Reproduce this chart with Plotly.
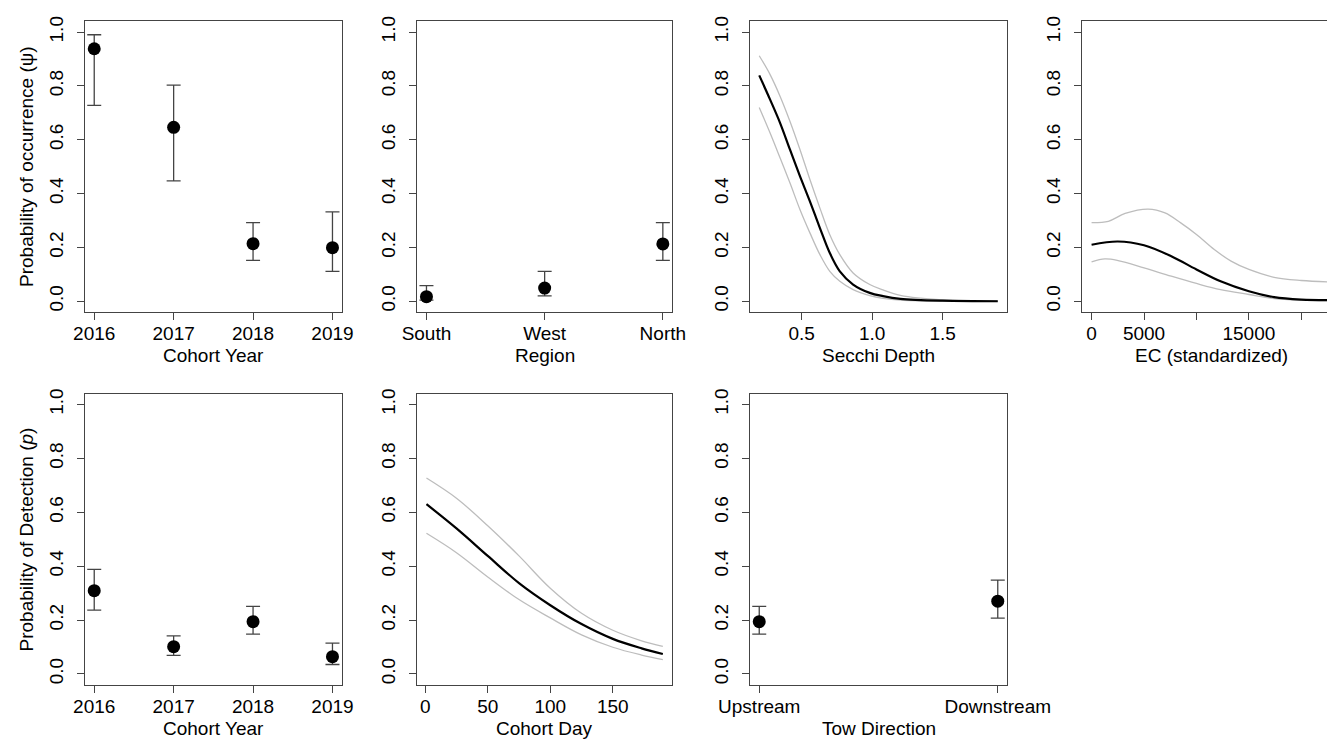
import plotly.graph_objects as go

# ---------------- data ----------------
# Occupancy (psi) by cohort year
occ_years = [2016, 2017, 2018, 2019]
occ_year_psi = [0.938, 0.646, 0.214, 0.199]
occ_year_lo = [0.728, 0.447, 0.152, 0.111]
occ_year_hi = [0.990, 0.803, 0.292, 0.332]

# Occupancy by region
region_labels = ["South", "West", "North"]
region_pos = [1, 2, 3]
region_psi = [0.017, 0.049, 0.213]
region_lo = [0.004, 0.020, 0.152]
region_hi = [0.058, 0.111, 0.292]

# Occupancy vs Secchi depth
secchi_x = [0.2, 0.277, 0.348, 0.418, 0.489, 0.559, 0.63, 0.70, 0.771, 0.865, 0.983, 1.077, 1.2, 1.5, 1.89]
secchi_mean_y = [0.839, 0.749, 0.662, 0.563, 0.464, 0.371, 0.272, 0.179, 0.111, 0.062, 0.031, 0.019, 0.009, 0.002, 0.0]
secchi_hi_y = [0.912, 0.842, 0.761, 0.668, 0.563, 0.452, 0.346, 0.247, 0.173, 0.105, 0.062, 0.042, 0.022, 0.005, 0.001]
secchi_lo_y = [0.720, 0.625, 0.532, 0.439, 0.340, 0.254, 0.173, 0.111, 0.074, 0.043, 0.021, 0.011, 0.004, 0.0, 0.0]

# Occupancy vs EC
ec_mean_x = [0, 2500, 5000, 7600, 10000, 12300, 15000, 17400, 20000, 22800]
ec_mean_y = [0.210, 0.222, 0.208, 0.167, 0.118, 0.074, 0.037, 0.015, 0.006, 0.004]
ec_hi_x = [0, 1600, 3200, 5400, 7000, 8500, 10000, 11700, 13300, 15000, 17400, 20000, 22800]
ec_hi_y = [0.292, 0.297, 0.326, 0.342, 0.328, 0.291, 0.248, 0.192, 0.149, 0.118, 0.089, 0.077, 0.071]
ec_lo_x = [0, 1270, 2530, 5000, 7600, 10000, 12300, 15000, 17400, 20000, 22800]
ec_lo_y = [0.146, 0.157, 0.151, 0.124, 0.093, 0.066, 0.043, 0.025, 0.010, 0.004, 0.002]

# Detection (p) by cohort year
det_years = [2016, 2017, 2018, 2019]
det_year_p = [0.309, 0.101, 0.194, 0.064]
det_year_lo = [0.237, 0.069, 0.148, 0.035]
det_year_hi = [0.388, 0.141, 0.251, 0.114]

# Detection vs cohort day
day_x = [1, 25, 50, 75, 100, 125, 150, 173, 190]
day_mean_y = [0.630, 0.540, 0.438, 0.337, 0.255, 0.185, 0.130, 0.095, 0.074]
day_hi_y = [0.727, 0.652, 0.550, 0.438, 0.318, 0.225, 0.162, 0.123, 0.102]
day_lo_y = [0.522, 0.450, 0.360, 0.276, 0.208, 0.145, 0.099, 0.070, 0.053]

# Detection by tow direction
tow_labels = ["Upstream", "Downstream"]
tow_pos = [1, 2]
tow_p = [0.194, 0.270]
tow_lo = [0.148, 0.207]
tow_hi = [0.251, 0.348]

y_ticks = [0.0, 0.2, 0.4, 0.6, 0.8, 1.0]
y_ticktext = ["0.0", "0.2", "0.4", "0.6", "0.8", "1.0"]

# ---------------- styling ----------------
W, H = 1335, 740
FONT = "Liberation Sans, Arial, Helvetica, sans-serif"
FS = 19
AXC = "#444444"
GRAY = "#bdbdbd"

def px_x(p):
    return p / W

def px_y(p):
    return 1 - p / H

cols = [(76.7, 334.0), (409.0, 664.3), (741.7, 999.3), (1074.0, 1332.3)]
rows = [(13.3, 304.0), (385.7, 676.7)]

fig = go.Figure()

def pt_trace(x, y, lo, hi, ax):
    return go.Scatter(
        x=x, y=y, mode="markers",
        marker=dict(color="black", size=13),
        error_y=dict(type="data", symmetric=False,
                     array=[h - v for h, v in zip(hi, y)],
                     arrayminus=[v - l for l, v in zip(lo, y)],
                     color=AXC, thickness=1.3, width=7),
        xaxis="x" + ax, yaxis="y" + ax, showlegend=False)

def line_trace(x, y, ax, color, width):
    return go.Scatter(
        x=x, y=y, mode="lines", line=dict(color=color, width=width, shape="spline", smoothing=1.0),
        xaxis="x" + ax, yaxis="y" + ax, showlegend=False)

panels = {
    "": (0, 0), "2": (0, 1), "3": (0, 2), "4": (0, 3),
    "5": (1, 0), "6": (1, 1), "7": (1, 2),
}

fig.add_trace(pt_trace(occ_years, occ_year_psi, occ_year_lo, occ_year_hi, ""))
fig.add_trace(pt_trace(region_pos, region_psi, region_lo, region_hi, "2"))
fig.add_trace(line_trace(secchi_x, secchi_hi_y, "3", GRAY, 1.3))
fig.add_trace(line_trace(secchi_x, secchi_lo_y, "3", GRAY, 1.3))
fig.add_trace(line_trace(secchi_x, secchi_mean_y, "3", "black", 2.2))
fig.add_trace(line_trace(ec_hi_x, ec_hi_y, "4", GRAY, 1.3))
fig.add_trace(line_trace(ec_lo_x, ec_lo_y, "4", GRAY, 1.3))
fig.add_trace(line_trace(ec_mean_x, ec_mean_y, "4", "black", 2.2))
fig.add_trace(pt_trace(det_years, det_year_p, det_year_lo, det_year_hi, "5"))
fig.add_trace(line_trace(day_x, day_hi_y, "6", GRAY, 1.3))
fig.add_trace(line_trace(day_x, day_lo_y, "6", GRAY, 1.3))
fig.add_trace(line_trace(day_x, day_mean_y, "6", "black", 2.2))
fig.add_trace(pt_trace(tow_pos, tow_p, tow_lo, tow_hi, "7"))

xspecs = {
    "": dict(range=[2015.88, 2019.12], tickvals=occ_years, ticktext=[str(v) for v in occ_years]),
    "2": dict(range=[0.92, 3.08], tickvals=region_pos, ticktext=region_labels),
    "3": dict(range=[0.1324, 1.9576], tickvals=[0.5, 1.0, 1.5], ticktext=["0.5", "1.0", "1.5"]),
    "4": dict(range=[-912, 23712], tickvals=[0, 5000, 10000, 15000, 20000],
              ticktext=["0", "5000", "", "15000", ""]),
    "5": dict(range=[2015.88, 2019.12], tickvals=det_years, ticktext=[str(v) for v in det_years]),
    "6": dict(range=[-6.56, 197.56], tickvals=[0, 50, 100, 150], ticktext=["0", "50", "100", "150"]),
    "7": dict(range=[0.96, 2.04], tickvals=tow_pos, ticktext=tow_labels),
}

common = dict(showline=True, linecolor=AXC, linewidth=1, mirror=True,
              ticks="outside", ticklen=7, tickcolor=AXC, tickwidth=1,
              showgrid=False, zeroline=False, automargin=False,
              tickfont=dict(family=FONT, size=FS, color="black"))

layout = {}
for key, (r, c) in panels.items():
    x0, x1 = cols[c]
    y0, y1 = rows[r]
    layout["xaxis" + key] = dict(domain=[px_x(x0), px_x(x1)], anchor="y" + key,
                                 tickmode="array", ticklabelstandoff=-3,
                                 **xspecs[key], **common)
    layout["yaxis" + key] = dict(domain=[px_y(y1), px_y(y0)], anchor="x" + key,
                                 range=[-0.04, 1.04], tickmode="array",
                                 tickvals=y_ticks, ticktext=y_ticktext, tickangle=-90,
                                 ticklabelstandoff=6, **common)

x_titles = ["Cohort Year", "Region", "Secchi Depth", "EC (standardized)",
            "Cohort Year", "Cohort Day", "Tow Direction"]
annotations = []
for (key, (r, c)), t in zip(panels.items(), x_titles):
    x0, x1 = cols[c]
    yc = 347 if r == 0 else 720
    annotations.append(dict(text=t, x=px_x((x0 + x1) / 2), y=px_y(yc), xref="paper", yref="paper",
                            xanchor="center", yanchor="middle", showarrow=False,
                            font=dict(family=FONT, size=FS, color="black")))
y_titles = ["Probability of occurrence (\u03c8)", "Probability of Detection (<i>p</i>)"]
for r, t in enumerate(y_titles):
    y0, y1 = rows[r]
    annotations.append(dict(text=t, x=px_x(18.3), y=px_y((y0 + y1) / 2), xref="paper", yref="paper",
                            xanchor="center", yanchor="middle", textangle=-90, showarrow=False,
                            font=dict(family=FONT, size=FS, color="black")))

fig.update_layout(template="none", width=W, height=H,
                  margin=dict(l=0, r=0, t=0, b=0, pad=0, autoexpand=False),
                  plot_bgcolor="white", paper_bgcolor="white",
                  font=dict(family=FONT, size=FS, color="black"),
                  annotations=annotations, **layout)

fig.write_html("out.html")
